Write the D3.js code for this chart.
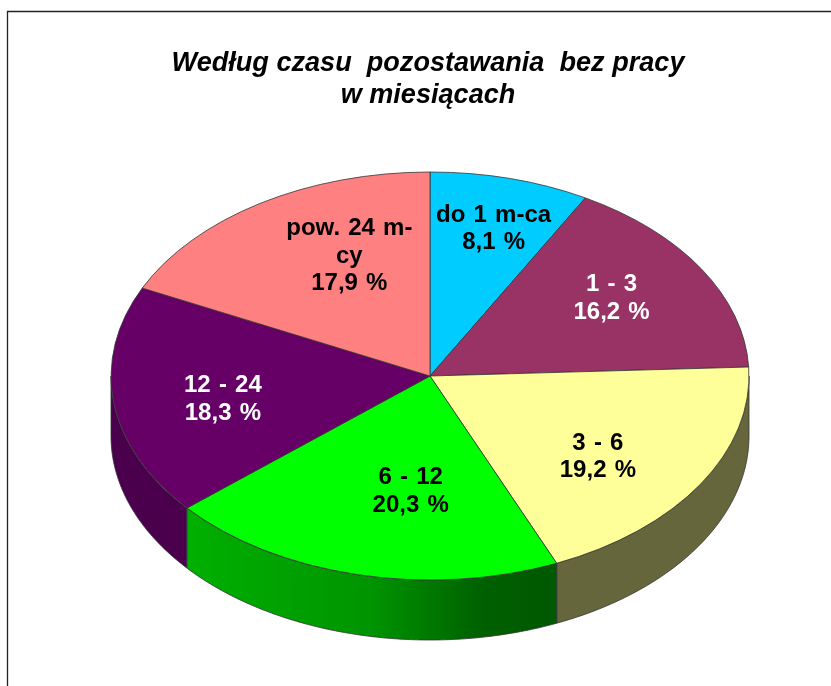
<!DOCTYPE html>
<html>
<head>
<meta charset="utf-8">
<script src="https://cdn.jsdelivr.net/npm/d3@7"></script>
<style>
  html, body { margin: 0; background: #fff; }
  svg { display: block; filter: blur(0.4px); }
  text { font-family: "Liberation Sans", Arial, sans-serif; font-weight: bold; white-space: pre; }
</style>
</head>
<body>
<div id="chart"></div>
<script>
// data
const categories = ["do 1 m-ca", "1 - 3", "3 - 6", "6 - 12", "12 - 24", "pow. 24 m-cy"];
const shares = [8.1, 16.2, 19.2, 20.3, 18.3, 17.9];
const shareLabels = ["8,1 %", "16,2 %", "19,2 %", "20,3 %", "18,3 %", "17,9 %"];
const topColors = ["#00ccff", "#993366", "#ffff99", "#00ff00", "#660066", "#ff8080"];
const sideColors = ["#006680", "#4d1933", "#66663d", "#008000", "#4a004d", "#804040"];
const textColors = ["#000", "#fff", "#000", "#000", "#fff", "#000"];
const titleLines = ["Według czasu  pozostawania  bez pracy", "w miesiącach"];

const width = 831, height = 686;
const cx = 430, cy = 376, rx = 319, ry = 204, depth = 60;
// shift of each label from its slice centroid, labels were hand placed in the original
const labelNudge = [[9, -14], [-3, -6], [-16, 6], [30, -21], [8, 4], [35, -4]];
const edge = "#333";

const svg = d3.select("#chart").append("svg")
  .attr("width", width)
  .attr("height", height);

// frame, open at the bottom and on the right
svg.append("path")
  .attr("d", d3.line()([[7.5, height + 2], [7.5, 11.5], [width + 2, 11.5]]))
  .attr("fill", "none")
  .attr("stroke", "#222")
  .attr("stroke-width", 1.3);

svg.selectAll(".title")
  .data(titleLines)
  .enter()
  .append("text")
  .attr("class", "title")
  .attr("x", 428)
  .attr("y", (d, i) => 71 + i * 32)
  .attr("text-anchor", "middle")
  .attr("font-size", "27.1px")
  .attr("font-style", "italic")
  .text(d => d);

const slices = d3.pie().sort(null).value(d => d)(shares);

// angle 0 is at the top, clockwise, same as d3.arc
const px = a => cx + rx * Math.sin(a);
const py = a => cy - ry * Math.cos(a);

// outline of the visible wall: front half of the ellipse only
function wall(d) {
  const a0 = Math.max(d.startAngle, Math.PI / 2);
  const a1 = Math.min(d.endAngle, Math.PI * 1.5);
  if (a1 <= a0) return null;
  const steps = d3.range(a0, a1, 0.01).concat([a1]);
  const upper = steps.map(a => [px(a), py(a)]);
  const lower = steps.slice().reverse().map(a => [px(a), py(a) + depth]);
  return d3.line()(upper.concat(lower)) + "Z";
}

// green wall is shaded left to right, the rest are flat
const defs = svg.append("defs");
const grad = defs.append("linearGradient")
  .attr("id", "greenWall")
  .attr("gradientUnits", "userSpaceOnUse")
  .attr("x1", 186).attr("x2", 557).attr("y1", 0).attr("y2", 0);
grad.append("stop").attr("offset", "0").attr("stop-color", "#00b000");
grad.append("stop").attr("offset", "0.5").attr("stop-color", "#009400");
grad.append("stop").attr("offset", "0.8").attr("stop-color", "#006000");
grad.append("stop").attr("offset", "1").attr("stop-color", "#005800");

svg.append("g").selectAll("path")
  .data(slices.filter(d => wall(d)))
  .enter()
  .append("path")
  .attr("d", wall)
  .attr("fill", d => d.index == 3 ? "url(#greenWall)" : sideColors[d.index])
  .attr("stroke", edge)
  .attr("stroke-width", 0.8);

const arc = d3.arc().innerRadius(0).outerRadius(1);

svg.append("g")
  .attr("transform", `translate(${cx},${cy}) scale(${rx},${ry})`)
  .selectAll("path")
  .data(slices)
  .enter()
  .append("path")
  .attr("d", arc)
  .attr("fill", d => topColors[d.index])
  .attr("stroke", edge)
  .attr("stroke-width", 0.8)
  .attr("vector-effect", "non-scaling-stroke");

const labels = svg.append("g").selectAll("text")
  .data(slices)
  .enter()
  .append("text")
  .attr("text-anchor", "middle")
  .attr("font-size", "24px")
  .attr("word-spacing", "1.5px")
  .attr("fill", d => textColors[d.index])
  .attr("transform", d => {
    const mid = (d.startAngle + d.endAngle) / 2;
    const x = cx + 0.68 * rx * Math.sin(mid) + labelNudge[d.index][0];
    const y = cy - 0.68 * ry * Math.cos(mid) + labelNudge[d.index][1];
    return `translate(${x},${y})`;
  });

labels.each(function (d) {
  // the longest name wraps in the original
  const name = categories[d.index];
  const lines = name.startsWith("pow") ? ["pow. 24 m-", "cy"] : [name];
  lines.push(shareLabels[d.index]);
  d3.select(this).selectAll("tspan")
    .data(lines)
    .enter()
    .append("tspan")
    .attr("x", 0)
    .attr("y", (l, i) => (i - (lines.length - 1) / 2) * 27.5 + 8)
    .text(l => l);
});
</script>
</body>
</html>
